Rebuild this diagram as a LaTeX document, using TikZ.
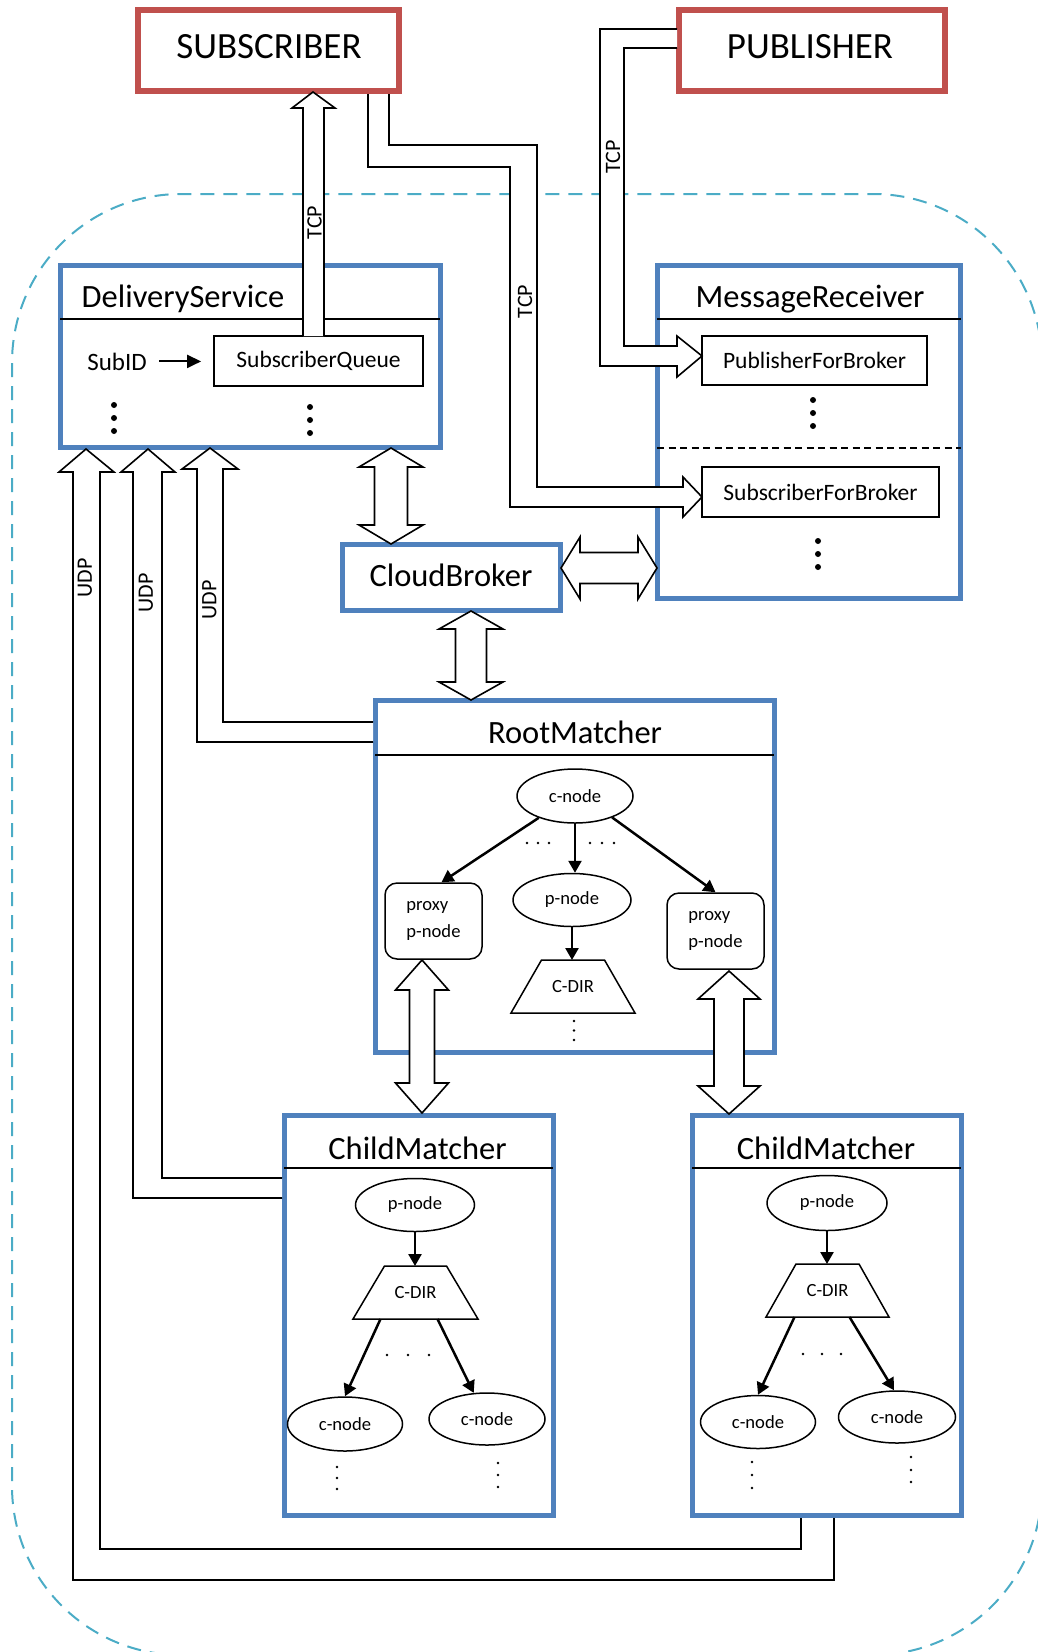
\documentclass[tikz,border=0pt]{standalone}
\usepackage{fontspec}
\setmainfont{Carlito}
\usetikzlibrary{shapes.geometric,arrows.meta,calc}

\definecolor{boxblue}{RGB}{79,129,189}
\definecolor{boxred}{RGB}{192,80,77}
\definecolor{cloudcyan}{RGB}{75,172,198}

\newcommand\fsBig{\fontsize{37}{44}\selectfont}
\newcommand\fsTitle{\fontsize{32.5}{39}\selectfont}
\newcommand\fsMid{\fontsize{23.5}{28}\selectfont}
\newcommand\fsSubID{\fontsize{25}{30}\selectfont}
\newcommand\fsTree{\fontsize{18.6}{27}\selectfont}
\newcommand\fsProto{\fontsize{22}{26}\selectfont}

% vertical hollow double arrow: #1 top tip, #2 bottom tip, #3 head length, #4 head half width, #5 shaft half width
\newcommand\vblock[5]{%
  \filldraw[blk] let \p1=#1, \p2=#2 in
    (\x1,\y1) -- (\x1+#4pt,\y1-#3pt) -- (\x1+#5pt,\y1-#3pt) -- (\x1+#5pt,\y2+#3pt)
    -- (\x1+#4pt,\y2+#3pt) -- (\x1,\y2) -- (\x1-#4pt,\y2+#3pt) -- (\x1-#5pt,\y2+#3pt)
    -- (\x1-#5pt,\y1-#3pt) -- (\x1-#4pt,\y1-#3pt) -- cycle;}
% horizontal hollow double arrow: #1 left tip, #2 right tip
\newcommand\hblock[5]{%
  \filldraw[blk] let \p1=#1, \p2=#2 in
    (\x1,\y1) -- (\x1+#3pt,\y1+#4pt) -- (\x1+#3pt,\y1+#5pt) -- (\x2-#3pt,\y1+#5pt)
    -- (\x2-#3pt,\y1+#4pt) -- (\x2,\y1) -- (\x2-#3pt,\y1-#4pt) -- (\x2-#3pt,\y1-#5pt)
    -- (\x1+#3pt,\y1-#5pt) -- (\x1+#3pt,\y1-#4pt) -- cycle;}
% trapezoid outline around a C-DIR node: #1 node name, #2 inset of the top edge
\newcommand\cdiroutline[2]{%
  \draw[line width=1.5pt, line join=miter] (#1.south west) -- ($(#1.north west)+(#2,0)$)
    -- ($(#1.north east)+(-#2,0)$) -- (#1.south east) -- cycle;}

\begin{document}
\begin{tikzpicture}[x=1pt,y=-1pt,
  bluebox/.style={draw=boxblue, line width=5pt, fill=white, inner sep=0pt, rectangle},
  redbox/.style={draw=boxred, line width=5.5pt, fill=white, inner sep=0pt, rectangle},
  inbox/.style={draw, line width=1.8pt, inner sep=0pt, font=\fsMid},
  oval/.style={draw, ellipse, line width=1.5pt, inner sep=0pt, font=\fsTree},
  proxybox/.style={draw, rounded corners=12pt, line width=1.5pt, inner sep=0pt, align=left, font=\fsTree},
  cdir/.style={rectangle, inner sep=0pt, outer sep=0pt, font=\fsTree},
  divider/.style={line width=1.5pt},
  blk/.style={draw=black, fill=white, line width=1.6pt, line join=miter},
  tarr/.style={line width=2.5pt, -{Triangle[length=12pt,width=13pt]}},
  smallarr/.style={line width=2pt, -{Triangle[length=14pt,width=13pt]}},
  cloudframe/.style={draw=cloudcyan, line width=2pt, dash pattern=on 14pt off 9pt, rounded corners=169pt},
  proto/.style={font=\fsProto, rotate=90, inner sep=0pt},
  title/.style={anchor=base, font=\fsTitle},
]
\useasboundingbox (0,0) rectangle (1038,1652);

% cloud boundary
\begin{scope}
  \clip (0,0) rectangle (1038,1652);
  \draw[cloudframe] (12,194) rectangle (1042,1655);
\end{scope}

% clients
\node[redbox, minimum width=261pt, minimum height=81pt] (sub) at (268.5,50.5) {};
\node[anchor=base, font=\fsBig] (subtxt) at (269,58) {SUBSCRIBER};
\node[redbox, minimum width=266pt, minimum height=81pt] (pub) at (812,50.5) {};
\node[anchor=base, font=\fsBig] (pubtxt) at (810,58) {PUBLISHER};

% DeliveryService
\node[bluebox, minimum width=380pt, minimum height=182pt] (ds) at (250,356) {};
\node[title] (dstitle) at (183,307) {DeliveryService};
\draw[divider] (60,319) -- (440,319);
\node[anchor=base, font=\fsSubID] (subid) at (117,370) {SubID};
\node[inbox, minimum width=209pt, minimum height=50pt] (sq) at (318.5,361) {SubscriberQueue};
\draw[smallarr, shorten <=9pt, shorten >=12pt] (subid.east) -- (subid.east -| sq.west);
\foreach \yy in {405,418,431} \fill (114,\yy) circle[radius=3pt];
\foreach \yy in {407,420,433} \fill (310,\yy) circle[radius=3pt];

% MessageReceiver
\node[bluebox, minimum width=303pt, minimum height=333pt] (mr) at (809,431.5) {};
\node[title] (mrtitle) at (810,307.6) {MessageReceiver};
\draw[divider] (657,319) -- (961,319);
\draw[line width=1.5pt, dash pattern=on 7pt off 4.5pt] (657,448) -- (961,448);
\node[inbox, minimum width=225pt, minimum height=49pt] (pfb) at (814.5,360.5) {PublisherForBroker};
\node[inbox, minimum width=237pt, minimum height=50pt] (sfb) at (820.5,492) {SubscriberForBroker};
\foreach \yy in {400,413,426} \fill (813,\yy) circle[radius=3pt];
\foreach \yy in {541,554,567} \fill (818,\yy) circle[radius=3pt];

% CloudBroker
\node[bluebox, minimum width=218pt, minimum height=66pt] (cb) at (451.5,577.5) {};
\node[title] (cbtitle) at (451,586.7) {CloudBroker};

% RootMatcher
\node[bluebox, minimum width=399pt, minimum height=352pt] (rm) at (574.5,876) {};
\node[title] (rmtitle) at (575,743.3) {RootMatcher};
\draw[divider] (375,755) -- (774,755);
\node[oval, minimum width=116pt, minimum height=54pt] (rc) at (575,796) {c-node};
\node[oval, minimum width=118pt, minimum height=53pt] (rp) at (572,900) {p-node};
\node[proxybox, minimum width=97pt, minimum height=76pt] (lpx) at (433.5,921) {proxy\\p-node};
\node[proxybox, minimum width=97pt, minimum height=76pt] (rpx) at (715.5,931) {proxy\\p-node};
\node[cdir, minimum width=124pt, minimum height=53pt] (rcd) at (573,986.5) {C-DIR};
\cdiroutline{rcd}{30.5}
\draw[tarr] (rc.211) -- ($(lpx.north)+(8,0)$);
\draw[tarr] (rc.south) -- (rc.south |- rp.north);
\draw[tarr] (rc.330) -- (rpx.north);
\draw[tarr] (rp.south) -- (rp.south |- rcd.north);
\foreach \xx in {527,538,549,590,602,614} \fill (\xx,843) circle[radius=1.4pt];
\foreach \yy in {1021,1030.5,1040} \fill (574,\yy) circle[radius=1.4pt];

% ChildMatcher (left)
\node[bluebox, minimum width=269pt, minimum height=400pt] (cml) at (418.5,1315) {};
\node[title] (cmltitle) at (417.5,1159) {ChildMatcher};
\draw[divider] (284,1168) -- (553,1168);
\node[oval, minimum width=119pt, minimum height=53pt] (clp) at (415,1205) {p-node};
\node[cdir, minimum width=125pt, minimum height=53pt] (clcd) at (415.5,1292.5) {C-DIR};
\cdiroutline{clcd}{31.5}
\node[oval, minimum width=115pt, minimum height=54pt] (clc1) at (345,1424) {c-node};
\node[oval, minimum width=116pt, minimum height=52pt] (clc2) at (487,1419) {c-node};
\draw[tarr] (clp.south) -- (clp.south |- clcd.north);
\draw[tarr] ($(clcd.south)+(-35,0)$) -- (clc1.north);
\draw[tarr] ($(clcd.south)+(22,0)$) -- (clc2.117);
\foreach \xx in {387,408,429} \fill (\xx,1355) circle[radius=1.4pt];
\foreach \yy in {1467,1478,1489} \fill (337,\yy) circle[radius=1.4pt];
\foreach \yy in {1463,1475,1487} \fill (498,\yy) circle[radius=1.4pt];

% ChildMatcher (right)
\node[bluebox, minimum width=269pt, minimum height=400pt] (cmr) at (826.5,1315) {};
\node[title] (cmrtitle) at (826,1159) {ChildMatcher};
\draw[divider] (692,1168) -- (961,1168);
\node[oval, minimum width=120pt, minimum height=55pt] (crp) at (827,1203) {p-node};
\node[cdir, minimum width=123pt, minimum height=53pt] (crcd) at (827.5,1290.5) {C-DIR};
\cdiroutline{crcd}{30}
\node[oval, minimum width=115pt, minimum height=53pt] (crc1) at (758,1422) {c-node};
\node[oval, minimum width=117pt, minimum height=52pt] (crc2) at (897,1417) {c-node};
\draw[tarr] (crp.south) -- (crp.south |- crcd.north);
\draw[tarr] ($(crcd.south)+(-33,0)$) -- (crc1.north);
\draw[tarr] ($(crcd.south)+(22,0)$) -- ($(crc2.north)+(-3,0)$);
\foreach \xx in {803,822,841} \fill (\xx,1354) circle[radius=1.4pt];
\foreach \yy in {1462,1475,1488} \fill (752,\yy) circle[radius=1.4pt];
\foreach \yy in {1457,1470,1482} \fill (911,\yy) circle[radius=1.4pt];

% TCP: SubscriberQueue -> SUBSCRIBER
\filldraw[blk] (303,336) -- (303,108) -- (292,108) -- (313,92) -- (335,108) -- (324,108) -- (324,336);
\node[proto] (tcp1) at (314.5,222.5) {TCP};

% TCP: SUBSCRIBER -> SubscriberForBroker
\filldraw[blk] (368,94) -- (368,167) -- (510,167) -- (510,507) -- (683,507) -- (683,517)
  -- (702,497) -- (683,477) -- (683,487) -- (537,487) -- (537,145) -- (389,145) -- (389,94);
\node[proto] (tcp2) at (525,301.5) {TCP};

% TCP: PUBLISHER -> PublisherForBroker
\filldraw[blk] (677,29) -- (600,29) -- (600,366) -- (677,366) -- (677,377) -- (702,356)
  -- (677,336) -- (677,346) -- (624,346) -- (624,48) -- (677,48);
\node[proto] (tcp3) at (613,157) {TCP};

% UDP: RootMatcher -> DeliveryService
\filldraw[blk] (373,722) -- (223,722) -- (223,469) -- (238,469) -- (210,448) -- (182,469)
  -- (197,469) -- (197,742) -- (373,742);
\node[proto] (udp3) at (209.5,600) {UDP};

% UDP: left ChildMatcher -> DeliveryService
\filldraw[blk] (282,1178) -- (162,1178) -- (162,472) -- (175,472) -- (148,449) -- (121,472)
  -- (133,472) -- (133,1198) -- (282,1198);
\node[proto] (udp2) at (146,593) {UDP};

% UDP: right ChildMatcher -> DeliveryService
\filldraw[blk] (801,1518) -- (801,1549) -- (100,1549) -- (100,472) -- (114,472) -- (86,449)
  -- (59,472) -- (73,472) -- (73,1580) -- (834,1580) -- (834,1518);
\node[proto] (udp1) at (85,578) {UDP};

% bidirectional links
\vblock{(391,448)}{(391,544)}{19}{32}{16.5}
\vblock{(471,611)}{(471,700)}{18}{32}{15.5}
\hblock{(561,568)}{(657,568)}{19}{31}{15.5}
\vblock{(422,960)}{(422,1113)}{30}{26.5}{12.5}
\vblock{(729,971)}{(729,1114)}{28}{31}{15}

\end{tikzpicture}
\end{document}
